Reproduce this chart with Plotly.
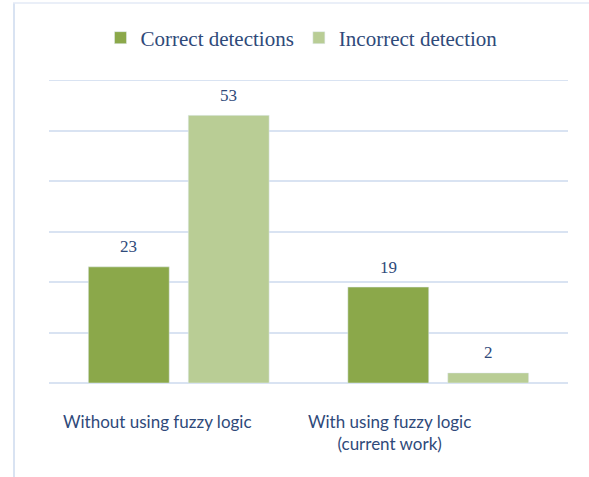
import plotly.graph_objects as go

categories = ["Without using fuzzy logic", "With using fuzzy logic<br>(current work)"]
correct = [23, 19]
incorrect = [53, 2]
series_names = ["Correct detections", "Incorrect detection"]

W, H = 589, 477
L, R, T, B = 49, 21, 80, 94
text_color = "#2f4a7a"
grid_color = "#d9e3f2"
colors = ["#8ba84a", "#b9cd95"]

fig = go.Figure()
for name, vals, col in zip(series_names, [correct, incorrect], colors):
    fig.add_bar(x=categories, y=vals, name=name, marker_color=col)

# data labels
for vals, xs in [(correct, -50), (incorrect, 50)]:
    for c, v in zip(categories, vals):
        fig.add_annotation(x=c, y=v, text=str(v), showarrow=False, xshift=xs, yshift=20,
                           font=dict(family="Liberation Serif", size=17, color=text_color))

# category labels (placed as in the reference)
for c, xs in zip(categories, [-21, -49]):
    fig.add_annotation(x=c, xref="x", y=0, yref="paper", yanchor="top", yshift=-26,
                       xshift=xs, text=c, showarrow=False, align="center",
                       font=dict(family="Lato", size=17, color=text_color))

pw = W - L - R
ph = H - T - B
fig.update_layout(
    width=W, height=H,
    margin=dict(l=L, r=R, t=T, b=B),
    paper_bgcolor="white", plot_bgcolor="white",
    barmode="group", bargap=0.23, bargroupgap=0.19,
    showlegend=True,
    legend=dict(orientation="h", x=0.5 - 7 / pw, xanchor="center", y=1 + (80 - 38) / ph,
                yanchor="middle",
                font=dict(family="Liberation Serif", size=21, color=text_color),
                itemclick=False, traceorder="normal"),
    xaxis=dict(showline=False, ticks="", showticklabels=False),
    yaxis=dict(range=[0, 60], tickvals=[0, 10, 20, 30, 40, 50], showticklabels=False,
               showgrid=True, gridcolor=grid_color, gridwidth=2, zeroline=True,
               zerolinecolor=grid_color, zerolinewidth=2),
    shapes=[
        dict(type="line", xref="paper", yref="y", x0=0, x1=1, y0=60, y1=60,
             line=dict(color=grid_color, width=2)),
        dict(type="line", xref="paper", yref="paper",
             x0=(14 - L) / pw, x1=(14 - L) / pw,
             y0=-B / ph, y1=1 + (T - 3) / ph,
             line=dict(color=grid_color, width=2)),
        dict(type="line", xref="paper", yref="paper",
             x0=(13 - L) / pw, x1=1 + R / pw,
             y0=1 + (T - 3) / ph, y1=1 + (T - 3) / ph,
             line=dict(color="#e3eaf6", width=1.5)),
    ],
)

fig.write_html("out.html", config={"displayModeBar": False},
               post_script="document.body.style.margin='0';")
